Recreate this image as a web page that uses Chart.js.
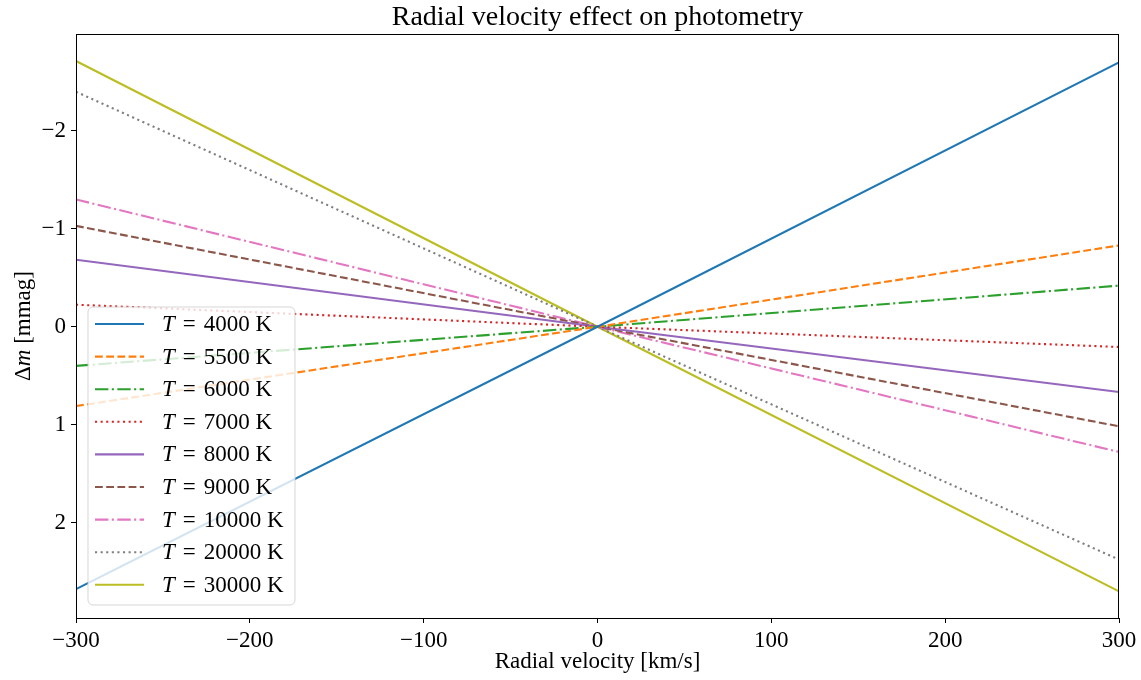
<!DOCTYPE html>
<html>
<head>
<meta charset="utf-8">
<script src="https://cdn.jsdelivr.net/npm/chart.js@4.4.0/dist/chart.umd.min.js"></script>
<style>
  body { margin: 0; background: #fff; }
  #wrap { width: 1141px; height: 680px; }
</style>
</head>
<body>
<div id="wrap"><canvas id="myChart"></canvas></div>
<script>
const velocities = [-300, 0, 300];
const temperatures = [4000, 5500, 6000, 7000, 8000, 9000, 10000, 20000, 30000];
// delta m in mmag at -300, 0, +300 km/s
const dm4000 = [2.68, 0, -2.70];
const dm5500 = [0.81, 0, -0.83];
const dm6000 = [0.40, 0, -0.42];
const dm7000 = [-0.225, 0, 0.207];
const dm8000 = [-0.685, 0, 0.666];
const dm9000 = [-1.03, 0, 1.017];
const dm10000 = [-1.30, 0, 1.279];
const dm20000 = [-2.40, 0, 2.378];
const dm30000 = [-2.714, 0, 2.703];
const xTicks = [-300, -200, -100, 0, 100, 200, 300];
const yTicks = [-2, -1, 0, 1, 2];

const series = [dm4000, dm5500, dm6000, dm7000, dm8000, dm9000, dm10000, dm20000, dm30000];
const colors = ["#1f77b4", "#ff7f0e", "#2ca02c", "#d62728", "#9467bd",
                "#8c564b", "#e377c2", "#7f7f7f", "#bcbd22"];
const lw = 2.1;
const dashes = [
  [],                          // solid
  [7.8, 3.4],                  // dashed
  [13.4, 3.4, 2.1, 3.4],       // dash-dot
  [2.1, 3.5]                   // dotted
];
const serif = "'Liberation Serif', 'DejaVu Serif', serif";
const minus = v => String(v).replace('-', '\u2212');

const datasets = series.map((vals, i) => ({
  label: 'T = ' + temperatures[i] + ' K',
  data: velocities.map((v, j) => ({x: v, y: vals[j]})),
  borderColor: colors[i],
  backgroundColor: colors[i],
  borderWidth: lw,
  borderDash: dashes[i % 4],
  pointRadius: 0,
  fill: false,
  tension: 0
}));

// frame around plot area
const framePlugin = {
  id: 'frame',
  afterDatasetsDraw(chart) {
    const {ctx, chartArea: a} = chart;
    ctx.save();
    ctx.strokeStyle = '#000';
    ctx.lineWidth = 1;
    ctx.strokeRect(a.left + 0.5, a.top + 0.5, a.right - a.left - 1, a.bottom - a.top);
    ctx.restore();
  }
};

// y axis label with italic m
const yLabelPlugin = {
  id: 'ylabel',
  afterDraw(chart) {
    const ctx = chart.ctx;
    const a = chart.chartArea;
    const parts = [['\u0394', 'normal'], ['m', 'italic'], [' [mmag]', 'normal']];
    ctx.save();
    ctx.translate(24, (a.top + a.bottom) / 2);
    ctx.rotate(-Math.PI / 2);
    ctx.fillStyle = '#000';
    ctx.textBaseline = 'middle';
    let total = 0;
    parts.forEach(p => { ctx.font = p[1] + ' 23px ' + serif; total += ctx.measureText(p[0]).width; });
    let x = -total / 2;
    parts.forEach(p => {
      ctx.font = p[1] + ' 23px ' + serif;
      ctx.fillText(p[0], x, 0);
      x += ctx.measureText(p[0]).width;
    });
    ctx.restore();
  }
};

// matplotlib style legend, lower left inside the axes
const legendPlugin = {
  id: 'mplLegend',
  afterDatasetsDraw(chart) {
    const ctx = chart.ctx;
    const bx = 88, by = 307, bw = 207, bh = 298, r = 5;
    ctx.save();
    ctx.beginPath();
    ctx.moveTo(bx + r, by);
    ctx.arcTo(bx + bw, by, bx + bw, by + bh, r);
    ctx.arcTo(bx + bw, by + bh, bx, by + bh, r);
    ctx.arcTo(bx, by + bh, bx, by, r);
    ctx.arcTo(bx, by, bx + bw, by, r);
    ctx.closePath();
    ctx.fillStyle = 'rgba(255,255,255,0.8)';
    ctx.fill();
    ctx.strokeStyle = 'rgba(204,204,204,0.8)';
    ctx.lineWidth = 1;
    ctx.stroke();
    chart.data.datasets.forEach((ds, i) => {
      const y = 324 + i * 32.6;
      ctx.beginPath();
      ctx.setLineDash(ds.borderDash);
      ctx.strokeStyle = ds.borderColor;
      ctx.lineWidth = lw;
      ctx.moveTo(95, y);
      ctx.lineTo(144, y);
      ctx.stroke();
      ctx.setLineDash([]);
      ctx.fillStyle = '#000';
      ctx.textBaseline = 'middle';
      ctx.font = 'italic 23px ' + serif;
      ctx.fillText('T', 162, y + 1);
      let x = 162 + ctx.measureText('T').width + 8;
      ctx.font = 'normal 23px ' + serif;
      ctx.fillText('=', x, y + 1);
      x += ctx.measureText('=').width + 8;
      ctx.fillText(temperatures[i] + ' K', x, y + 1);
    });
    ctx.restore();
  }
};

const ctx = document.getElementById('myChart').getContext('2d');
const myChart = new Chart(ctx, {
  type: 'line',
  data: { datasets: datasets },
  options: {
    responsive: true,
    maintainAspectRatio: false,
    animation: false,
    layout: { padding: { left: 0, right: 22, top: 0, bottom: 0 } },
    plugins: {
      legend: { display: false },
      tooltip: { enabled: false },
      title: {
        display: true,
        fullSize: false,
        text: 'Radial velocity effect on photometry',
        color: '#000',
        font: { family: serif, size: 28, weight: 'normal', lineHeight: 1 },
        padding: { top: 4, bottom: 2 }
      }
    },
    scales: {
      x: {
        type: 'linear',
        min: -300,
        max: 300,
        afterFit(scale) { scale.height = 62; },
        afterBuildTicks(scale) { scale.ticks = xTicks.map(v => ({value: v})); },
        grid: { drawOnChartArea: false, drawTicks: true, tickLength: 5, color: '#000' },
        border: { display: false },
        ticks: {
          color: '#000',
          padding: 4,
          maxRotation: 0,
          font: { family: serif, size: 23 },
          callback: v => minus(v)
        },
        title: {
          display: true,
          text: 'Radial velocity [km/s]',
          color: '#000',
          font: { family: serif, size: 23 },
          padding: { top: 0, bottom: 4 }
        }
      },
      y: {
        type: 'linear',
        reverse: true,
        min: -2.99,
        max: 2.975,
        afterFit(scale) { scale.width = 76; },
        afterBuildTicks(scale) { scale.ticks = yTicks.map(v => ({value: v})); },
        grid: { drawOnChartArea: false, drawTicks: true, tickLength: 5, color: '#000' },
        border: { display: false },
        ticks: {
          color: '#000',
          padding: 5,
          font: { family: serif, size: 23 },
          callback: v => minus(v)
        }
      }
    }
  },
  plugins: [framePlugin, legendPlugin, yLabelPlugin]
});
</script>
</body>
</html>
